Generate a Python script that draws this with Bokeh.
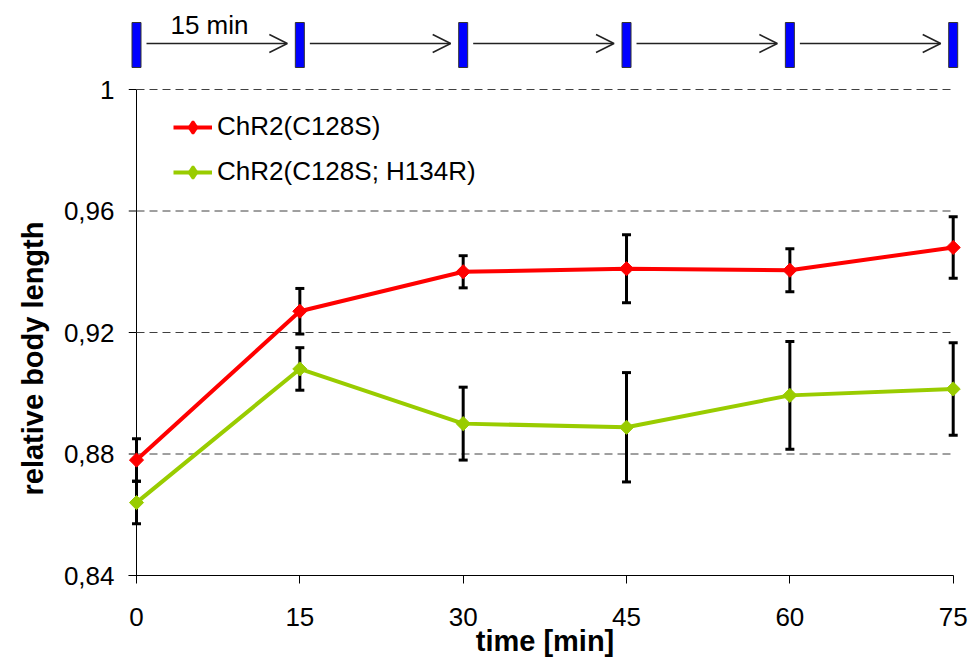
import numpy as np
from bokeh.plotting import figure
from bokeh.models import (Range1d, FixedTicker, ColumnDataSource, Arrow, OpenHead,
                          Legend, LegendItem, Title)
from bokeh.core.properties import value
from bokeh.embed import file_html
from bokeh.resources import INLINE

# ---------------- data ----------------
times = [0, 15, 30, 45, 60, 75]
c128s = [0.878, 0.927, 0.940, 0.941, 0.9405, 0.948]
c128s_err = [0.007, 0.0075, 0.0053, 0.0112, 0.0071, 0.0101]
h134r = [0.864, 0.908, 0.890, 0.8888, 0.8993, 0.9014]
h134r_err = [0.0070, 0.0070, 0.0120, 0.0180, 0.0177, 0.0152]
series_names = ["ChR2(C128S)", "ChR2(C128S; H134R)"]
y_ticks = [0.84, 0.88, 0.92, 0.96, 1.0]
y_tick_labels = ["0,84", "0,88", "0,92", "0,96", "1"]
x_ticks = [0, 15, 30, 45, 60, 75]
x_tick_labels = ["0", "15", "30", "45", "60", "75"]
stim_label = "15 min"
x_title = "time [min]"
y_title = "relative body length"

# ---------------- layout constants ----------------
W, H = 971, 659
PX_X = 816.7 / 75.0          # px per minute
PX_Y = 486.0 / 0.16          # px per unit
FRAME_L, FRAME_R = 128, 961
x_lo = 0 - (136 - FRAME_L) / PX_X
x_hi = 75 + (FRAME_R - 952.7) / PX_X
y_lo = 0.84
y_hi = 1.0 + 89 / PX_Y
FONT = "Liberation Sans"
RED = "#FF0000"
GREEN = "#99CC00"


def px_to_y(py):
    return 1.0 - (py - 89) / PX_Y


p = figure(width=W, height=H, output_backend="svg", toolbar_location=None,
           x_range=Range1d(x_lo, x_hi), y_range=Range1d(y_lo, y_hi),
           min_border_left=FRAME_L, min_border_right=W - FRAME_R,
           min_border_top=0, min_border_bottom=84)
p.outline_line_color = None
p.background_fill_color = "white"
p.border_fill_color = "white"
p.xgrid.visible = False
p.ygrid.visible = False

# x axis
xa = p.xaxis[0]
xa.ticker = FixedTicker(ticks=x_ticks)
xa.major_label_overrides = {t: l for t, l in zip(x_ticks, x_tick_labels)}
xa.bounds = (x_lo, 75)
xa.major_tick_out = 8
xa.major_tick_in = 0
xa.minor_tick_line_color = None
xa.axis_line_color = "black"
xa.major_tick_line_color = "black"
xa.major_label_text_font = FONT
xa.major_label_text_font_size = "26px"
xa.major_label_text_color = "black"
xa.major_label_standoff = 24
xa.axis_label = x_title
xa.axis_label_text_font = FONT
xa.axis_label_text_font_style = "bold"
xa.axis_label_text_font_size = "29px"
xa.axis_label_text_color = "black"
xa.axis_label_standoff = -4

# y axis (labels only; line and ticks drawn at x = 0)
ya = p.yaxis[0]
ya.ticker = FixedTicker(ticks=y_ticks)
ya.major_label_overrides = {t: l for t, l in zip(y_ticks, y_tick_labels)}
ya.major_tick_out = 0
ya.major_tick_in = 0
ya.major_tick_line_color = None
ya.minor_tick_line_color = None
ya.axis_line_color = None
ya.major_label_text_font = FONT
ya.major_label_text_font_size = "26px"
ya.major_label_text_color = "black"
ya.major_label_standoff = 14

# y axis title (offset along the axis like the original)
p.add_layout(Title(text=y_title, align="left", offset=80, standoff=24,
                   text_font=FONT, text_font_size="29px", text_font_style="bold",
                   text_color="black"), "left")

# y axis line and ticks at x = 0
p.segment(x0=[0], y0=[y_ticks[0]], x1=[0], y1=[y_ticks[-1]], line_color="black", line_width=1)
p.segment(x0=[x_lo] * len(y_ticks), y0=y_ticks, x1=[0] * len(y_ticks), y1=y_ticks,
          line_color="black", line_width=1)

# dashed grid lines
grid_y = [t for t in y_ticks if t > 0.84]
p.segment(x0=[0] * len(grid_y), y0=grid_y, x1=[75] * len(grid_y), y1=grid_y,
          line_color="#404040", line_width=1, line_dash="8 5")

# stimulus bars and arrows on top
stim_y = px_to_y(44.5)
p.rect(x=times, y=[stim_y] * len(times), width=9, height=45,
       width_units="screen", height_units="screen",
       fill_color="#0000FF", line_color="#333333", line_width=1)
arrow_y = px_to_y(43)
for a, b in zip(times[:-1], times[1:]):
    p.add_layout(Arrow(x_start=a + 10 / PX_X, y_start=arrow_y,
                       x_end=b - 12.5 / PX_X, y_end=arrow_y,
                       line_color="#222222", line_width=1.5,
                       end=OpenHead(size=18, line_color="#222222", line_width=1.5)))
p.text(x=[times[0] + 73 / PX_X], y=[px_to_y(24)], text=[stim_label],
       text_font=value(FONT), text_font_size="26px", text_color="black",
       text_align="center", text_baseline="middle")

# series
src1 = ColumnDataSource(dict(x=times, y=c128s,
                             lo=np.array(c128s) - np.array(c128s_err),
                             hi=np.array(c128s) + np.array(c128s_err)))
src2 = ColumnDataSource(dict(x=times, y=h134r,
                             lo=np.array(h134r) - np.array(h134r_err),
                             hi=np.array(h134r) + np.array(h134r_err)))

l1 = p.line("x", "y", source=src1, line_color=RED, line_width=4)
l2 = p.line("x", "y", source=src2, line_color=GREEN, line_width=4)

for src in (src1, src2):
    p.segment(x0="x", y0="lo", x1="x", y1="hi", source=src, line_color="black", line_width=3)
    p.scatter("x", "lo", source=src, marker="dash", size=9, line_color="black", line_width=3)
    p.scatter("x", "hi", source=src, marker="dash", size=9, line_color="black", line_width=3)

p.scatter("x", "y", source=src1, marker="square", angle=np.pi / 4, size=10,
          fill_color=RED, line_color=RED)
p.scatter("x", "y", source=src2, marker="square", angle=np.pi / 4, size=10,
          fill_color=GREEN, line_color=GREEN)

# legend-only diamond proxies, placed outside the visible frame
proxy = dict(x=[x_hi + 50], y=[y_lo - 1])
d1 = p.scatter("x", "y", source=ColumnDataSource(proxy), marker="diamond", size=14,
               fill_color=RED, line_color=RED, line_width=2.5)
d2 = p.scatter("x", "y", source=ColumnDataSource(proxy), marker="diamond", size=14,
               fill_color=GREEN, line_color=GREEN, line_width=2.5)

legend = Legend(items=[LegendItem(label=series_names[0], renderers=[l1, d1]),
                       LegendItem(label=series_names[1], renderers=[l2, d2])],
                location=(45, 388), orientation="vertical",
                glyph_width=39, glyph_height=30, label_height=30, label_standoff=5,
                spacing=14, padding=0, margin=0,
                border_line_color=None, background_fill_alpha=0,
                label_text_font=FONT, label_text_font_size="26px",
                label_text_color="black")
p.add_layout(legend)

open("out.html", "w").write(file_html(p, INLINE))
